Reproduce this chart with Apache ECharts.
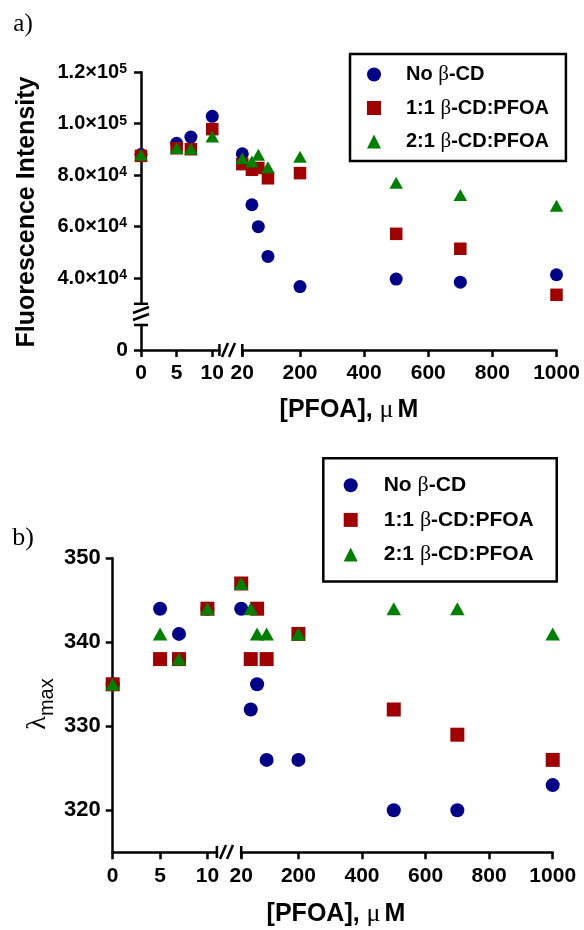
<!DOCTYPE html>
<html>
<head>
<meta charset="utf-8">
<script src="https://cdn.jsdelivr.net/npm/echarts@6/dist/echarts.min.js"></script>
<style>
html,body{margin:0;padding:0;background:#fff;}
#c{width:584px;height:930px;}
</style>
</head>
<body>
<div id="c"></div>
<script>
// ---- data ----
const seriesNames = ['No β-CD', '1:1 β-CD:PFOA', '2:1 β-CD:PFOA'];
const pfoa = [0, 5, 7, 10, 20, 50, 70, 100, 200, 500, 700, 1000];
const fluorNoCD = [88000, 92400, 94800, 102900, 88300, 68500, 60000, 48400, 36700, 39600, 38400, 41300];
const fluor11   = [87500, 90500, 90100, 97900, 84300, 82100, 82800, 78800, 80800, 57200, 51400, 33500];
const fluor21   = [87900, 90500, 90300, 95000, 86600, 85300, 87900, 83100, 87200, 77100, 72300, 68100];
const lamNoCD = [335, 344, 341, 344, 344, 332, 335, 326, 326, 320, 320, 323];
const lam11   = [335, 338, 338, 344, 347, 338, 344, 338, 341, 332, 329, 326];
const lam21   = [335, 341, 338, 344, 347, 344, 341, 341, 341, 344, 344, 341];
const xTicksLow = [0, 5, 10];
const xTicksHigh = [20, 200, 400, 600, 800, 1000];
const fluorTicks = [40000, 60000, 80000, 100000, 120000];
const lamTicks = [320, 330, 340, 350];

// ---- styling ----
const FONT = 'Liberation Sans, Arial, sans-serif';
const SERIF = 'Liberation Serif, Times New Roman, serif';
const COLORS = ['#000088', '#A00000', '#008000'];
const SYMBOLS = ['circle', 'rect', 'triangle'];
const AXW = 2.5;

function seg(xs, ys, lo, hi) {
  const out = [];
  for (let i = 0; i < xs.length; i++) if (xs[i] >= lo && xs[i] <= hi) out.push([xs[i], ys[i]]);
  return out;
}
const plain = function (v) { return String(v); };

function xAxis(grid, min, max, ticks, show) {
  return {
    type: 'value', gridIndex: grid, min: min, max: max, show: show,
    splitLine: {show: false},
    axisLine: {show: true, onZero: false, lineStyle: {color: '#000', width: AXW}},
    axisTick: {show: true, length: 7, customValues: ticks, lineStyle: {color: '#000', width: AXW}},
    axisLabel: {show: true, customValues: ticks, formatter: plain, margin: 13, color: '#000', fontFamily: FONT, fontWeight: 'bold', fontSize: 21}
  };
}
function yAxis(grid, min, max, ticks, show, label) {
  return {
    type: 'value', gridIndex: grid, min: min, max: max, show: show,
    splitLine: {show: false},
    axisLine: {show: true, onZero: false, lineStyle: {color: '#000', width: AXW}},
    axisTick: {show: true, length: 7, customValues: ticks, lineStyle: {color: '#000', width: AXW}},
    axisLabel: Object.assign({show: true, customValues: ticks, formatter: plain, margin: 12, color: '#000', fontFamily: FONT, fontWeight: 'bold', fontSize: 22}, label || {})
  };
}

const sciLabel = {
  margin: 14,
  formatter: function (v) {
    const e = Math.floor(Math.log10(v) + 1e-9);
    const m = (v / Math.pow(10, e)).toFixed(1);
    return '{m|' + m + '×10}{s|' + e + '}';
  },
  rich: {
    m: {fontFamily: FONT, fontWeight: 'bold', fontSize: 20, color: '#000'},
    s: {fontFamily: FONT, fontWeight: 'bold', fontSize: 14, color: '#000', verticalAlign: 'top'}
  }
};

const grids = [
  {left: 141, top: 72.3, width: 78.4, height: 231.5},   // 0 a upper low-x
  {left: 242.3, top: 72.3, width: 314.2, height: 231.5},// 1 a upper high-x
  {left: 141, top: 325, width: 78.4, height: 25},       // 2 a lower low-x
  {left: 242.3, top: 325, width: 314.2, height: 25},    // 3 a lower high-x
  {left: 112.7, top: 558.3, width: 104.2, height: 294}, // 4 b low-x
  {left: 241.2, top: 558.3, width: 311.5, height: 294}  // 5 b high-x
];

const xAxes = [
  xAxis(0, 0, 11, xTicksLow, false),
  xAxis(1, 20, 1000, xTicksHigh, false),
  xAxis(2, 0, 11, xTicksLow, true),
  xAxis(3, 20, 1000, xTicksHigh, true),
  xAxis(4, 0, 11, xTicksLow, true),
  xAxis(5, 20, 1000, xTicksHigh, true)
];
const yAxes = [
  yAxis(0, 30000, 120000, fluorTicks, true, sciLabel),
  yAxis(1, 30000, 120000, fluorTicks, false),
  yAxis(2, 0, 10000, [0], true, {fontSize: 21, margin: 13}),
  yAxis(3, 0, 10000, [0], false),
  yAxis(4, 315, 350, lamTicks, true),
  yAxis(5, 315, 350, lamTicks, false)
];

const fluorSets = [fluorNoCD, fluor11, fluor21];
const lamSets = [lamNoCD, lam11, lam21];
const sizesA = [13, 12.5, [13.5, 12]];
const sizesB = [14, 14, [14.5, 13]];
const series = [];
for (let k = 0; k < 3; k++) {
  const common = {name: seriesNames[k], type: 'scatter', symbol: SYMBOLS[k], itemStyle: {color: COLORS[k], opacity: 1}, emphasis: {disabled: true}, z: 2 + k};
  series.push(Object.assign({}, common, {xAxisIndex: 0, yAxisIndex: 0, symbolSize: sizesA[k], data: seg(pfoa, fluorSets[k], 0, 11)}));
  series.push(Object.assign({}, common, {xAxisIndex: 1, yAxisIndex: 1, symbolSize: sizesA[k], data: seg(pfoa, fluorSets[k], 20, 1000)}));
  series.push(Object.assign({}, common, {xAxisIndex: 4, yAxisIndex: 4, symbolSize: sizesB[k], data: seg(pfoa, lamSets[k], 0, 11)}));
  series.push(Object.assign({}, common, {xAxisIndex: 5, yAxisIndex: 5, symbolSize: sizesB[k], data: seg(pfoa, lamSets[k], 20, 1000)}));
}

function ln(x1, y1, x2, y2) {
  return {type: 'line', silent: true, z: 10, shape: {x1: x1, y1: y1, x2: x2, y2: y2}, style: {stroke: '#000', lineWidth: AXW}};
}
function txt(x, y, text, font, rot, extra) {
  return {type: 'text', silent: true, x: x, y: y, rotation: rot || 0,
    style: Object.assign({text: text, font: font, fill: '#000', align: 'center', verticalAlign: 'middle'}, extra || {})};
}
const xTitleRich = {
  t: {font: 'bold 25px ' + FONT, fill: '#000'},
  g: {font: '26px ' + SERIF, fill: '#000', padding: [0, 4, 0, 0]}
};

const graphics = [
  // panel labels
  txt(23, 24, 'a)', '25px ' + SERIF),
  txt(23, 538, 'b)', '26px ' + SERIF),
  // axis titles
  txt(27, 212, 'Fluorescence Intensity', 'bold 25px ' + FONT, Math.PI / 2),
  txt(349, 410, '{t|[PFOA], }{g|μ}{t|M}', '', 0, {rich: xTitleRich}),
  txt(336, 914, '{t|[PFOA], }{g|μ}{t|M}', '', 0, {rich: xTitleRich}),
  {type: 'text', silent: true, x: 38, y: 704, rotation: Math.PI / 2,
    style: {text: '{l|λ}{s|max}', align: 'center', verticalAlign: 'middle',
      rich: {l: {font: '28px ' + SERIF, fill: '#000'}, s: {font: '20px ' + FONT, fill: '#000', verticalAlign: 'bottom', padding: [0, 0, -5, 0]}}}},
  // y break panel a
  ln(134, 303.8, 148, 303.8),
  ln(133, 313, 149, 307),
  ln(133, 320, 149, 314),
  ln(134, 325, 148, 325),
  // x break panel a
  ln(219.4, 344, 219.4, 356),
  ln(222, 357, 228, 343),
  ln(229, 357, 235, 343),
  ln(242.3, 344, 242.3, 356),
  // x break panel b
  ln(216.9, 846, 216.9, 858),
  ln(220, 859, 226, 845),
  ln(227, 859, 233, 845),
  ln(241.2, 846, 241.2, 858)
];

function legendText(size) {
  return {
    fontFamily: FONT, fontWeight: 'bold', color: '#000', fontSize: size, lineHeight: size, padding: [0, 0, 0, size],
    rich: {g: {fontFamily: SERIF, fontWeight: 'normal', fontSize: size + 1, color: '#000', lineHeight: size}}
  };
}
const legendCommon = {
  orient: 'vertical', data: seriesNames, borderColor: '#000', borderWidth: 2.5, borderRadius: 0,
  itemWidth: 14, itemHeight: 14, selectedMode: false,
  formatter: function (n) { return n.replace('β', '{g|β}'); }
};

const option = {
  animation: false,
  backgroundColor: '#fff',
  grid: grids,
  xAxis: xAxes,
  yAxis: yAxes,
  series: series,
  graphic: graphics,
  legend: [
    Object.assign({}, legendCommon, {left: 350, top: 54, padding: [10, 17, 9, 17], itemGap: 12.5, textStyle: legendText(20)}),
    Object.assign({}, legendCommon, {left: 323.3, top: 458.3, padding: [16, 23, 16, 20.4], itemGap: 12.6, textStyle: legendText(21)})
  ]
};

const chart = echarts.init(document.getElementById('c'), null, {renderer: 'canvas'});
chart.setOption(option);
</script>
</body>
</html>
